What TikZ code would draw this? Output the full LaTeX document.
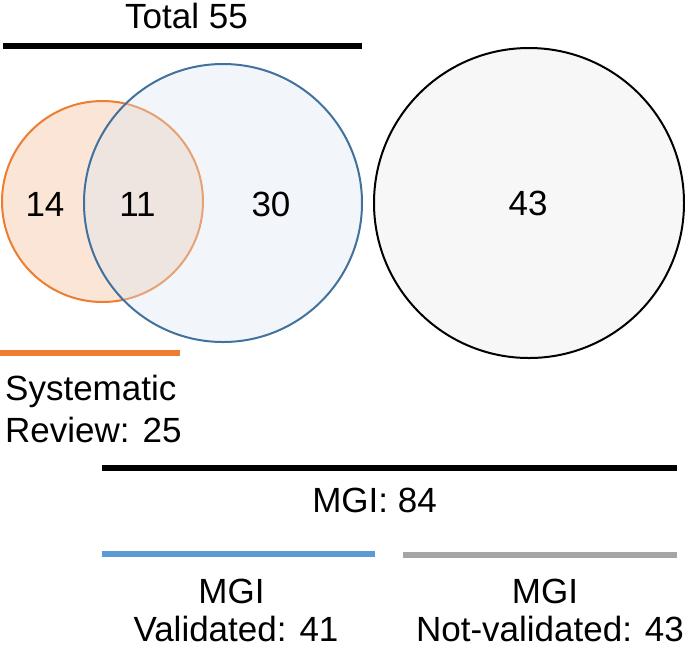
\documentclass[tikz,border=0pt]{standalone}
\usepackage{fontspec}
\setmainfont{Liberation Sans}
\definecolor{orline}{HTML}{ED7D31}
\definecolor{orfill}{HTML}{FBE5D6}
\definecolor{blline}{HTML}{41719C}
\definecolor{blfill}{HTML}{DAE6F3}
\definecolor{blbar}{HTML}{5B9BD5}
\definecolor{grbar}{HTML}{A5A5A5}
\definecolor{gyfill}{HTML}{F7F7F7}
\tikzset{
  lbl/.style={inner sep=0pt, anchor=base, font=\fontsize{35}{42}\selectfont},
  bar/.style={line width=6pt, line cap=butt},
}
\begin{document}
\begin{tikzpicture}[x=1pt,y=-1pt]
\useasboundingbox (0,0) rectangle (685,649);
% circles
\draw[orline, line width=2pt, fill=orfill] (102.5,201.5) circle (100.5);
\fill[blfill, fill opacity=0.35] (223,203) circle (139);
\draw[blline, line width=2pt] (223,203) circle (139);
\draw[black, line width=2pt, fill=gyfill] (529,203) circle (155);
% numbers
\node[lbl] (n14) at (45,216) {14};
\node[lbl] (n11) at (137.5,216) {11};
\node[lbl] (n30) at (271,216) {30};
\node[lbl] (n43) at (528,215) {43};
% top label and bar
\node[lbl] (total) at (186.5,28) {Total 55};
\coordinate (t1) at (3,45.5);
\coordinate (t2) at (362,45.5);
\draw[bar, black] (t1) -- (t2);
% systematic review
\coordinate (o1) at (0,353);
\coordinate (o2) at (180,353);
\draw[bar, orline] (o1) -- (o2);
\node[lbl, anchor=base west] (sys) at (5,400) {Systematic};
\node[lbl, anchor=base west] (rev) at (5,442) {Review: 25};
% MGI
\coordinate (m1) at (102,468);
\coordinate (m2) at (677,468);
\draw[bar, black] (m1) -- (m2);
\node[lbl] (mgi) at (374.5,512) {MGI: 84};
\coordinate (b1) at (102,554);
\coordinate (b2) at (375,554);
\draw[bar, blbar] (b1) -- (b2);
\coordinate (g1) at (403,554.5);
\coordinate (g2) at (677,554.5);
\draw[bar, grbar] (g1) -- (g2);
\node[lbl] (v1) at (231.5,603) {MGI};
\node[lbl] (v2) at (236,641) {Validated: 41};
\node[lbl] (nv1) at (545,603) {MGI};
\node[lbl] (nv2) at (550,641) {Not-validated: 43};
\end{tikzpicture}
\end{document}
